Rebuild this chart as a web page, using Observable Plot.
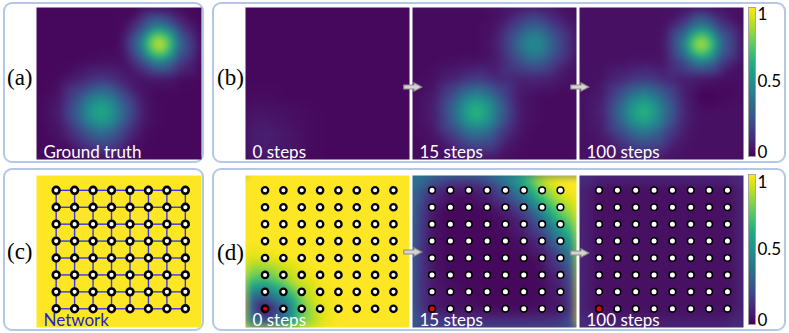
<!DOCTYPE html>
<html><head><meta charset="utf-8">
<script src="https://cdn.jsdelivr.net/npm/d3@7"></script>
<script src="https://cdn.jsdelivr.net/npm/@observablehq/plot@0.6"></script>
<style>
html,body{margin:0;padding:0;background:#fff;}
#fig{position:relative;width:789px;height:333px;overflow:hidden;background:#fff;}
.frame{position:absolute;box-sizing:border-box;border:2px solid #b4c7e7;border-radius:9px;}
.slot{position:absolute;}
.slot svg{display:block;overflow:visible;}
.letter{position:absolute;font-family:"Liberation Serif","Times New Roman",serif;font-size:23px;line-height:23px;color:#000;white-space:nowrap;}
</style></head><body><div id="fig"></div>
<script>
// ---------- data ----------
// sample positions inside the top-row maps (0 = left / top, 1 = right / bottom)
const fineCols = [0, 0.13, 0.26, 0.32, 0.39, 0.46, 0.52, 0.635, 0.69, 0.745, 0.80, 0.87, 1];
const fineRows = [0, 0.12, 0.18, 0.24, 0.30, 0.36, 0.47, 0.58, 0.63, 0.69, 0.75, 0.83, 1];
const coarseCols = [0, 0.13, 0.26, 0.39, 0.52, 0.635, 0.745, 0.87, 1];
const coarseRows = [0, 0.12, 0.24, 0.36, 0.47, 0.58, 0.69, 0.83, 1];

const groundTruth = [
  [.02,.02,.02,.02,.02,.02,.02,.03,.05,.05,.05,.03,.02],
  [.02,.02,.02,.02,.02,.02,.03,.20,.35,.43,.35,.16,.02],
  [.02,.02,.02,.02,.02,.02,.04,.35,.65,.79,.65,.28,.03],
  [.02,.02,.02,.02,.02,.02,.05,.43,.79,.97,.79,.35,.03],
  [.02,.02,.02,.02,.03,.03,.04,.35,.65,.79,.65,.28,.03],
  [.02,.02,.03,.04,.04,.04,.04,.21,.35,.43,.35,.16,.02],
  [.02,.03,.09,.13,.15,.13,.09,.05,.06,.06,.06,.03,.02],
  [.02,.05,.24,.36,.43,.36,.24,.06,.03,.02,.02,.02,.02],
  [.02,.06,.30,.47,.56,.47,.31,.08,.04,.03,.02,.02,.02],
  [.02,.07,.34,.52,.62,.52,.34,.09,.04,.03,.02,.02,.02],
  [.02,.06,.30,.47,.56,.47,.31,.08,.04,.03,.02,.02,.02],
  [.02,.05,.19,.29,.34,.29,.19,.05,.03,.02,.02,.02,.02],
  [.02,.02,.03,.04,.05,.04,.03,.02,.02,.02,.02,.02,.02]
];
const field0 = [
  [.02,.02,.02,.02,.02,.02,.02,.02,.02],
  [.02,.02,.02,.02,.02,.02,.02,.02,.02],
  [.02,.02,.02,.02,.02,.02,.02,.02,.02],
  [.02,.02,.02,.02,.02,.02,.02,.02,.02],
  [.02,.02,.02,.02,.02,.02,.02,.02,.02],
  [.03,.03,.02,.02,.02,.02,.02,.02,.02],
  [.05,.05,.04,.03,.02,.02,.02,.02,.02],
  [.07,.08,.06,.03,.02,.02,.02,.02,.02],
  [.06,.07,.05,.03,.02,.02,.02,.02,.02]
];
const field15 = [
  [.03,.03,.03,.03,.03,.03,.04,.07,.08,.09,.08,.06,.03],
  [.03,.03,.03,.03,.03,.04,.06,.20,.27,.30,.27,.17,.05],
  [.03,.03,.03,.03,.03,.04,.08,.27,.39,.44,.39,.24,.06],
  [.03,.03,.03,.03,.03,.05,.09,.31,.44,.49,.44,.27,.06],
  [.03,.03,.03,.03,.03,.04,.08,.27,.39,.44,.39,.24,.06],
  [.03,.03,.04,.05,.05,.06,.07,.20,.27,.31,.27,.17,.05],
  [.03,.04,.10,.14,.17,.14,.11,.09,.09,.10,.09,.07,.04],
  [.03,.07,.26,.39,.47,.39,.26,.08,.05,.04,.03,.03,.03],
  [.03,.08,.33,.51,.60,.51,.33,.09,.05,.04,.03,.03,.03],
  [.03,.08,.37,.56,.67,.56,.37,.10,.05,.04,.03,.03,.03],
  [.03,.08,.33,.51,.60,.51,.33,.09,.05,.04,.03,.03,.03],
  [.03,.06,.21,.32,.37,.32,.21,.07,.04,.03,.03,.03,.03],
  [.03,.03,.05,.05,.06,.06,.05,.03,.03,.03,.03,.03,.03]
];
const field100 = [
  [.04,.04,.04,.04,.04,.04,.04,.05,.06,.07,.06,.05,.04],
  [.04,.04,.04,.04,.04,.04,.05,.20,.35,.42,.35,.17,.04],
  [.04,.04,.04,.04,.04,.04,.06,.35,.62,.75,.62,.28,.05],
  [.04,.04,.04,.04,.04,.04,.07,.42,.76,.92,.76,.34,.05],
  [.04,.04,.04,.04,.04,.04,.06,.35,.62,.75,.62,.28,.05],
  [.04,.04,.05,.06,.06,.06,.06,.20,.35,.42,.35,.17,.04],
  [.04,.05,.11,.15,.17,.15,.11,.07,.07,.06,.05,.04,.04],
  [.04,.07,.26,.39,.46,.39,.27,.09,.05,.01,.01,.02,.04],
  [.04,.08,.33,.50,.59,.50,.34,.10,.06,.02,.02,.03,.04],
  [.04,.09,.37,.56,.66,.56,.37,.11,.06,.04,.04,.04,.04],
  [.04,.08,.33,.50,.59,.50,.34,.10,.06,.04,.04,.04,.04],
  [.04,.07,.22,.32,.37,.32,.22,.08,.05,.04,.04,.04,.04],
  [.04,.04,.06,.06,.07,.06,.06,.04,.04,.04,.04,.04,.04]
];

// sensor grid: 8 x 8 nodes; coverage maps sampled at the nodes and at the map edges
const nodeIdx = [0, 1, 2, 3, 4, 5, 6, 7];
const gridCols = [-1.03, 0, 1, 2, 3, 4, 5, 6, 7, 7.84];
const gridRows = [-0.84, 0, 1, 2, 3, 4, 5, 6, 7, 8.07];
const sourceNode = [{c: 0, r: 7}];

const cover0 = [
  [1,1,1,1,1,1,1,1,1,1],
  [1,1,1,1,1,1,1,1,1,1],
  [1,1,1,1,1,1,1,1,1,1],
  [1,1,1,1,1,1,1,1,1,1],
  [1,1,1,1,1,1,1,1,1,1],
  [.95,.96,.99,1,1,1,1,1,1,1],
  [.80,.76,.88,.97,1,1,1,1,1,1],
  [.50,.40,.60,.87,.98,1,1,1,1,1],
  [.38,.0,.28,.75,.95,1,1,1,1,1],
  [.45,.36,.50,.80,.95,1,1,1,1,1]
];
const cover15 = [
  [.40,.32,.25,.24,.30,.48,.70,.95,1.0,1.0],
  [.35,.14,.06,.06,.10,.26,.48,.80,.97,1.0],
  [.30,.07,.02,.02,.04,.10,.25,.55,.82,.93],
  [.28,.05,.02,.02,.02,.04,.10,.28,.62,.80],
  [.26,.05,.02,.02,.02,.02,.05,.13,.42,.62],
  [.24,.05,.02,.02,.02,.02,.02,.06,.22,.45],
  [.23,.06,.03,.02,.02,.02,.02,.03,.12,.32],
  [.22,.07,.04,.03,.02,.02,.02,.03,.08,.25],
  [.22,.07,.05,.04,.03,.03,.03,.04,.06,.21],
  [.26,.22,.20,.18,.18,.18,.18,.18,.20,.25]
];
const cover100 = [
  [.14,.10,.10,.10,.10,.10,.10,.10,.10,.14],
  [.10,.04,.04,.04,.04,.04,.04,.04,.04,.10],
  [.10,.04,.04,.04,.04,.04,.04,.04,.04,.10],
  [.10,.04,.04,.04,.04,.04,.04,.04,.04,.10],
  [.10,.04,.04,.04,.04,.04,.04,.04,.04,.10],
  [.10,.04,.04,.04,.04,.04,.04,.04,.04,.10],
  [.10,.04,.04,.04,.04,.04,.04,.04,.04,.10],
  [.10,.04,.04,.04,.04,.04,.04,.04,.04,.10],
  [.10,.04,.04,.04,.04,.04,.04,.04,.04,.10],
  [.14,.10,.10,.10,.10,.10,.10,.10,.10,.14]
];

const stepLabels = ["0 steps", "15 steps", "100 steps"];
const colorTicks = [0, 0.5, 1];

// ---------- helpers ----------
const FONT = "Lato, 'Open Sans', sans-serif";
const fig = document.getElementById("fig");
const samples = (cols, rows, m) => rows.flatMap((y, j) => cols.map((x, i) => ({x, y, v: m[j][i]})));
const nodes = nodeIdx.flatMap(r => nodeIdx.map(c => ({c, r})));
const links = nodes.flatMap(n => [
  ...(n.c < 7 ? [{x1: n.c, y1: n.r, x2: n.c + 1, y2: n.r}] : []),
  ...(n.r < 7 ? [{x1: n.c, y1: n.r, x2: n.c, y2: n.r + 1}] : [])
]);
// widen the raster bounds a hair so the edge samples stay strictly inside
const pad = (a, b, f) => { const e = (b - a) * f; return [a - e, b + e]; };

function place(el, left, top) {
  const d = document.createElement("div");
  d.className = "slot";
  d.style.left = left + "px"; d.style.top = top + "px";
  d.appendChild(el); fig.appendChild(d);
}
function frameBox(left, top, w, h) {
  const d = document.createElement("div");
  d.className = "frame";
  Object.assign(d.style, {left: left + "px", top: top + "px", width: w + "px", height: h + "px"});
  fig.appendChild(d);
}
function letter(txt, left, top) {
  const d = document.createElement("div");
  d.className = "letter"; d.textContent = txt;
  d.style.left = left + "px"; d.style.top = top + "px";
  fig.appendChild(d);
}
function arrow(left, top) {
  const ns = "http://www.w3.org/2000/svg";
  const s = document.createElementNS(ns, "svg");
  s.setAttribute("width", 20); s.setAttribute("height", 11);
  s.style.position = "absolute"; s.style.left = left + "px"; s.style.top = top + "px";
  const p = document.createElementNS(ns, "polygon");
  p.setAttribute("points", "0.8,3 11,3 11,0.8 18.8,5 11,9.2 11,7 0.8,7");
  p.setAttribute("fill", "#d4d4d4"); p.setAttribute("stroke", "#8e8e8e"); p.setAttribute("stroke-width", "1.1");
  s.appendChild(p); fig.appendChild(s);
}
const label = (t, color) => Plot.text([t], {
  text: d => d, frameAnchor: "bottom-left", dx: 7, dy: -2, lineAnchor: "bottom",
  fill: color || "white", fontSize: 17, fontFamily: FONT
});

function heatTop(m, cols, rows, txt, w) {
  const dx = pad(0, 1, 0.004), dy = pad(0, 1, 0.004);
  return Plot.plot({
    width: w || 164, height: 152, margin: 0,
    x: {domain: dx, axis: null},
    y: {domain: dy, axis: null, reverse: true},
    color: {type: "linear", scheme: "viridis", domain: [0, 1]},
    marks: [
      Plot.raster(samples(cols, rows, m), {x: "x", y: "y", fill: "v",
        x1: dx[0], x2: dx[1], y1: dy[0], y2: dy[1], interpolate: "barycentric", blur: 3, pixelSize: 1}),
      label(txt)
    ]
  });
}
const gdx = pad(gridCols[0], gridCols[gridCols.length - 1], 0.004);
const gdy = pad(gridRows[0], gridRows[gridRows.length - 1], 0.004);
const gx = {domain: gdx, axis: null};
const gy = {domain: gdy, axis: null, reverse: true};

function heatGrid(m, txt, big) {
  const r = big ? 3.2 : 3.3, sw = big ? 2.3 : 1.6;
  return Plot.plot({
    width: 164, height: 152, margin: 0, x: gx, y: gy,
    color: {type: "linear", scheme: "viridis", domain: [0, 1]},
    marks: [
      Plot.raster(samples(gridCols, gridRows, m), {x: "x", y: "y", fill: "v",
        x1: gdx[0], x2: gdx[1], y1: gdy[0], y2: gdy[1],
        interpolate: "barycentric", blur: 3, pixelSize: 1}),
      Plot.dot(nodes, {x: "c", y: "r", r, fill: "white", stroke: "black", strokeWidth: sw}),
      Plot.dot(sourceNode, {x: "c", y: "r", r, fill: "#e8000b", stroke: "black", strokeWidth: sw}),
      label(txt)
    ]
  });
}
function network() {
  return Plot.plot({
    width: 165, height: 152, margin: 0, x: gx, y: gy,
    marks: [
      Plot.frame({fill: d3.interpolateViridis(1), stroke: "none"}),
      Plot.link(links, {x1: "x1", y1: "y1", x2: "x2", y2: "y2", stroke: "#3434f4", strokeWidth: 1.4}),
      Plot.dot(nodes, {x: "c", y: "r", r: 3.4, fill: "white", stroke: "black", strokeWidth: 2.6}),
      label("Network", "#2323c8")
    ]
  });
}
function colorbar(h, dTop, dBot) {
  return Plot.plot({
    width: 40, height: h, marginLeft: 0, marginRight: 33, marginTop: 0, marginBottom: 0,
    x: {domain: [0, 1], axis: null}, y: {domain: [0, 1], axis: null},
    color: {type: "linear", scheme: "viridis", domain: [0, 1]},
    marks: [
      Plot.raster({fill: (x, y) => y, x1: 0, x2: 1, y1: 0, y2: 1, pixelSize: 1}),
      Plot.frame({stroke: "#9a9a9a", strokeWidth: 0.8}),
      ...colorTicks.map(t => Plot.text([t], {
        y: d => d, text: d => String(d), frameAnchor: "right", textAnchor: "start", dx: 2,
        dy: t === 1 ? dTop : t === 0 ? dBot : 0, fontSize: 17, fontFamily: FONT, fill: "black"
      }))
    ]
  });
}

// ---------- layout ----------
frameBox(3, 2, 201, 161);
frameBox(212, 2, 574, 161);
frameBox(3, 168, 201, 163);
frameBox(212, 168, 574, 163);

place(heatTop(groundTruth, fineCols, fineRows, "Ground truth", 165), 36, 7);
place(heatTop(field0, coarseCols, coarseRows, stepLabels[0]), 245, 7);
place(heatTop(field15, fineCols, fineRows, stepLabels[1]), 412, 7);
place(heatTop(field100, fineCols, fineRows, stepLabels[2]), 579, 7);
place(network(), 36, 175);
[cover0, cover15, cover100].forEach((m, i) => place(heatGrid(m, stepLabels[i], i === 0), [245, 412, 579][i], 175));
place(colorbar(149, 7, -4), 748, 7);
place(colorbar(150, 8, -4), 748, 174);

arrow(403, 82); arrow(570, 82);
arrow(403, 247); arrow(570, 248);

letter("(a)", 7, 66); letter("(b)", 217, 66);
letter("(c)", 7, 240); letter("(d)", 217, 241);
</script></body></html>
